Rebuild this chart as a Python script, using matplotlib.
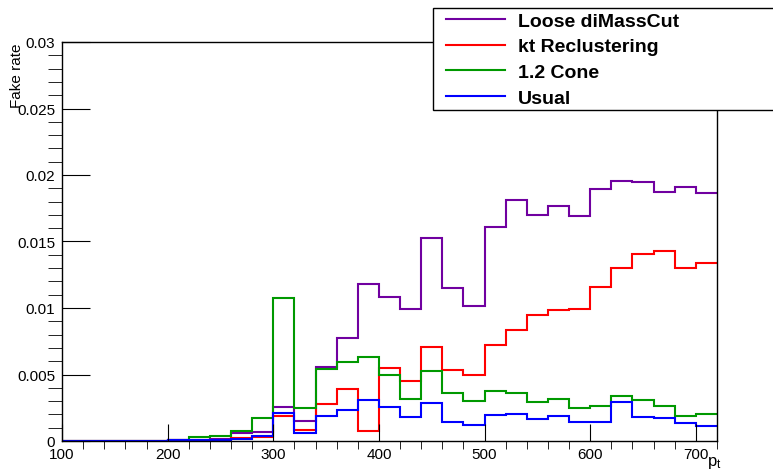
import numpy as np
import matplotlib
matplotlib.use("Agg")
import matplotlib.pyplot as plt
from matplotlib.lines import Line2D
from matplotlib.patches import Rectangle
from matplotlib.ticker import MultipleLocator

plt.rcParams['font.family'] = ['Liberation Sans', 'DejaVu Sans']

# bins de 20 GeV entre 100 y 720
edges = np.arange(100, 740, 20)

loose = [0, 0, 0, 0, 0, 0.0001, 0.0001, 0.00015, 0.0006, 0.0007,
         0.00253, 0.00148, 0.00559, 0.00774, 0.01183, 0.0108, 0.00992, 0.01524, 0.01153, 0.01015,
         0.01607, 0.01815, 0.01699, 0.0177, 0.01692, 0.01895, 0.01953, 0.01945, 0.01872, 0.0191, 0.01868]
kt = [0, 0, 0, 0, 0, 0.00005, 0.00005, 0.00005, 0.0002, 0.0003,
      0.0019, 0.00085, 0.00278, 0.0039, 0.00078, 0.00546, 0.00451, 0.00709, 0.00534, 0.00499,
      0.00722, 0.00835, 0.00947, 0.00985, 0.00995, 0.0116, 0.01298, 0.01403, 0.01429, 0.013, 0.01338]
cone = [0, 0, 0, 0, 0, 0.0001, 0.0003, 0.0004, 0.00078, 0.0017,
        0.01073, 0.00246, 0.00541, 0.00591, 0.00634, 0.00496, 0.00316, 0.00526, 0.00358, 0.00303,
        0.00378, 0.00361, 0.00291, 0.00316, 0.00246, 0.00266, 0.00336, 0.00306, 0.00263, 0.0019, 0.00203]
usual = [0, 0, 0, 0, 0, 0.00005, 0.00005, 0.0001, 0.00015, 0.00035,
         0.0021, 0.0006, 0.00188, 0.00233, 0.00308, 0.00253, 0.00178, 0.00283, 0.0014, 0.0012,
         0.00195, 0.00203, 0.00163, 0.0019, 0.00143, 0.00143, 0.00296, 0.00183, 0.00175, 0.00138, 0.0011]

labels = ["Loose diMassCut", "kt Reclustering", "1.2 Cone", "Usual"]
colores = ["#7000a0", "#ff0000", "#009900", "#0000ff"]

W, H = 773, 477
fig = plt.figure(figsize=(W/100, H/100), dpi=100)
ax = fig.add_axes([62/W, 35/H, 655/W, 399/H])

for vals, c in zip([loose, kt, cone, usual], colores):
    ax.stairs(vals, edges, baseline=None, color=c, linewidth=1.5)

ax.set_xlim(100, 720)
ax.set_ylim(0, 0.03)
ax.xaxis.set_major_locator(MultipleLocator(100))
ax.xaxis.set_minor_locator(MultipleLocator(20))
ax.yaxis.set_major_locator(MultipleLocator(0.005))
ax.yaxis.set_minor_locator(MultipleLocator(0.001))
ax.yaxis.set_major_formatter(plt.FuncFormatter(lambda v, p: "0" if v == 0 else "%g" % v))
ax.tick_params(direction='in', labelsize=11, top=False, right=False)
ax.tick_params(axis='x', which='major', length=12, pad=4)
ax.tick_params(axis='x', which='minor', length=6)
ax.tick_params(axis='y', which='major', length=20, pad=5)
ax.tick_params(axis='y', which='minor', length=10)
for s in ax.spines.values():
    s.set_linewidth(1)

fig.text(17/W, 1 - 43/H, "Fake rate", rotation=90, ha='center', va='top', fontsize=11)
fig.text(714/W, 1 - 466/H, r"$\mathregular{p_t}$", ha='center', va='baseline', fontsize=12)

# caja de la leyenda (sale por la derecha como en ROOT)
caja = Rectangle((433/W, 1 - 111/H), 400/W, 102/H, transform=fig.transFigure,
                 facecolor='white', edgecolor='black', linewidth=1, zorder=4)
fig.add_artist(caja)

handles = [Line2D([], [], color=c, linewidth=1.5) for c in colores]
leg = fig.legend(handles, labels, loc='upper left',
                 bbox_to_anchor=(446/W, 1 - 13/H), borderaxespad=0, borderpad=0,
                 frameon=False, prop={'weight': 'bold', 'size': 14},
                 handlelength=3.05, handletextpad=0.65, labelspacing=0.42)
leg.set_zorder(5)

fig.savefig("out.png", dpi=100)
